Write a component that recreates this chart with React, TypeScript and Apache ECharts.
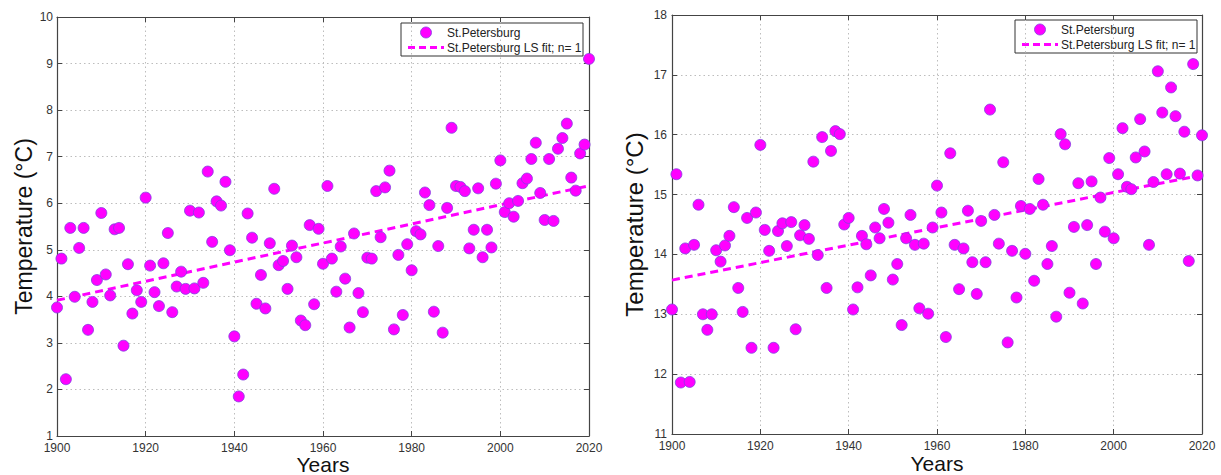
import React, { useEffect, useRef } from "react";
import * as echarts from "echarts";

// Annual mean temperature, St.Petersburg (left) – first year 1900, one value per year
const firstYear = 1900;
const leftValues = [
  3.76, 4.81, 2.22, 5.47, 3.99, 5.04, 5.47, 3.28, 3.88, 4.35,
  5.79, 4.47, 4.02, 5.44, 5.47, 2.94, 4.69, 3.63, 4.13, 3.88,
  6.12, 4.66, 4.09, 3.79, 4.71, 5.36, 3.66, 4.21, 4.53, 4.16,
  5.84, 4.17, 5.80, 4.29, 6.68, 5.17, 6.04, 5.95, 6.46, 4.99,
  3.14, 1.85, 2.32, 5.78, 5.26, 3.84, 4.46, 3.74, 5.14, 6.31,
  4.67, 4.76, 4.16, 5.09, 4.84, 3.48, 3.38, 5.53, 3.83, 5.45,
  4.70, 6.37, 4.81, 4.10, 5.07, 4.38, 3.33, 5.35, 4.07, 3.66,
  4.83, 4.81, 6.26, 5.27, 6.34, 6.70, 3.29, 4.89, 3.60, 5.12,
  4.56, 5.40, 5.33, 6.23, 5.96, 3.67, 5.08, 3.22, 5.90, 7.62,
  6.37, 6.35, 6.26, 5.03, 5.43, 6.32, 4.84, 5.43, 5.05, 6.42,
  6.92, 5.81, 6.00, 5.71, 6.05, 6.43, 6.53, 6.95, 7.30, 6.22,
  5.64, 6.95, 5.62, 7.17, 7.40, 7.71, 6.55, 6.27, 7.07, 7.26,
  9.10,
];

// Right panel values
const rightValues = [
  13.08, 15.34, 11.86, 14.10, 11.87, 14.16, 14.83, 13.00, 12.74, 13.00,
  14.07, 13.88, 14.15, 14.31, 14.79, 13.44, 13.04, 14.61, 12.44, 14.70,
  15.83, 14.41, 14.06, 12.44, 14.39, 14.52, 14.14, 14.54, 12.75, 14.32,
  14.49, 14.26, 15.55, 13.99, 15.96, 13.44, 15.73, 16.06, 16.01, 14.50,
  14.61, 13.08, 13.45, 14.31, 14.17, 13.65, 14.45, 14.27, 14.76, 14.53,
  13.58, 13.84, 12.82, 14.27, 14.66, 14.16, 13.10, 14.18, 13.01, 14.45,
  15.15, 14.70, 12.62, 15.69, 14.16, 13.42, 14.10, 14.73, 13.87, 13.34,
  14.56, 13.87, 16.42, 14.66, 14.18, 15.54, 12.53, 14.06, 13.28, 14.81,
  14.01, 14.76, 13.56, 15.26, 14.83, 13.84, 14.14, 12.96, 16.01, 15.84,
  13.36, 14.46, 15.19, 13.18, 14.49, 15.22, 13.84, 14.95, 14.38, 15.61,
  14.27, 15.34, 16.11, 15.13, 15.09, 15.62, 16.26, 15.72, 14.16, 15.21,
  17.06, 16.37, 15.34, 16.79, 16.31, 15.35, 16.05, 13.89, 17.18, 15.32,
  15.99,
];

const xRange = [1900, 2020];
const leftYRange = [1, 10];
const rightYRange = [11, 18];
const seriesName = "St.Petersburg";
const fitName = "St.Petersburg LS fit; n= 1";
const xTitle = "Years";
const yTitle = "Temperature (°C)";

const FONT = "Liberation Sans, Arial, Helvetica, sans-serif";
const MAGENTA = "#ff00ff";

function toPoints(vals: number[]) {
  return vals.map((v, i) => [firstYear + i, v]);
}

function lsFit(pts: number[][]) {
  const n = pts.length;
  let sx = 0, sy = 0, sxx = 0, sxy = 0;
  pts.forEach(([x, y]) => {
    sx += x; sy += y; sxx += x * x; sxy += x * y;
  });
  const b = (n * sxy - sx * sy) / (n * sxx - sx * sx);
  const a = (sy - b * sx) / n;
  const x0 = pts[0][0];
  const x1 = pts[n - 1][0];
  return [[x0, a + b * x0], [x1, a + b * x1]];
}

const plain = (v: number) => String(v);

function axisCommon() {
  return {
    type: "value" as const,
    axisLine: { show: true, onZero: false, lineStyle: { color: "#444", width: 1.2 } },
    axisTick: { show: true, inside: true, length: 5, lineStyle: { color: "#444" } },
    splitLine: { show: true, lineStyle: { type: [1.5, 3] as any, color: "#bdbdbd", width: 1 } },
  };
}

function legend(x: number, y: number, w: number, h: number) {
  return {
    type: "group",
    z: 100,
    children: [
      { type: "rect", shape: { x, y, width: w, height: h }, style: { fill: "#fff", stroke: "#333", lineWidth: 1 } },
      { type: "circle", shape: { cx: x + 25, cy: y + 9.5, r: 5.5 }, style: { fill: MAGENTA, stroke: "#8040e0", lineWidth: 0.8 } },
      { type: "text", style: { x: x + 46, y: y + 9.5, text: seriesName, fontFamily: FONT, fontSize: 12, fill: "#222", verticalAlign: "middle" } },
      { type: "line", shape: { x1: x + 7, y1: y + 24.5, x2: x + 43, y2: y + 24.5 }, style: { stroke: MAGENTA, lineWidth: 3, lineDash: [7, 4] } },
      { type: "text", style: { x: x + 46, y: y + 24.5, text: fitName, fontFamily: FONT, fontSize: 12, fill: "#222", verticalAlign: "middle" } },
    ],
  };
}

export default function App() {
  const ref = useRef<HTMLDivElement>(null);
  useEffect(() => {
    if (!ref.current) return;
    const chart = echarts.init(ref.current, undefined, { renderer: "svg" });
    const lp = toPoints(leftValues);
    const rp = toPoints(rightValues);
    const scatterStyle = {
      symbol: "circle",
      symbolSize: 11,
      itemStyle: { color: MAGENTA, borderColor: "#8040e0", borderWidth: 0.8, opacity: 1 },
      clip: false,
      z: 3,
    };
    const fitStyle = {
      symbol: "none",
      lineStyle: { color: MAGENTA, width: 3, type: [8, 5] },
      z: 2,
    };
    const tickLabel = (margin: number) => ({
      fontFamily: FONT, fontSize: 12, lineHeight: 12, color: "#333", margin, formatter: plain,
    });
    const xBase = (gi: number) => ({
      ...axisCommon(),
      gridIndex: gi,
      min: xRange[0],
      max: xRange[1],
      interval: 20,
    });
    const yBase = (gi: number, r: number[]) => ({
      ...axisCommon(),
      gridIndex: gi,
      min: r[0],
      max: r[1],
      interval: 1,
    });
    chart.setOption({
      animation: false,
      backgroundColor: "#fff",
      grid: [
        { left: 57, top: 17, width: 532, height: 419, containLabel: false, outerBoundsMode: "none" },
        { left: 672, top: 15, width: 530, height: 419, containLabel: false, outerBoundsMode: "none" },
      ],
      xAxis: [
        {
          ...xBase(0), position: "bottom",
          name: xTitle, nameLocation: "middle", nameGap: 18, nameMoveOverlap: false,
          nameTextStyle: { fontFamily: FONT, fontSize: 21, color: "#111", lineHeight: 21 },
          axisLabel: tickLabel(6),
        },
        { ...xBase(0), position: "top", axisLabel: { show: false }, splitLine: { show: false } },
        {
          ...xBase(1), position: "bottom",
          name: xTitle, nameLocation: "middle", nameGap: 19, nameMoveOverlap: false,
          nameTextStyle: { fontFamily: FONT, fontSize: 21, color: "#111", lineHeight: 21 },
          axisLabel: tickLabel(6),
        },
        { ...xBase(1), position: "top", axisLabel: { show: false }, splitLine: { show: false } },
      ],
      yAxis: [
        {
          ...yBase(0, leftYRange), position: "left",
          name: yTitle, nameLocation: "middle", nameGap: 22,
          nameTextStyle: { fontFamily: FONT, fontSize: 23, color: "#111" },
          axisLabel: tickLabel(4),
        },
        { ...yBase(0, leftYRange), position: "right", axisLabel: { show: false }, splitLine: { show: false } },
        {
          ...yBase(1, rightYRange), position: "left",
          name: yTitle, nameLocation: "middle", nameGap: 26,
          nameTextStyle: { fontFamily: FONT, fontSize: 24, color: "#111" },
          axisLabel: tickLabel(5),
        },
        { ...yBase(1, rightYRange), position: "right", axisLabel: { show: false }, splitLine: { show: false } },
      ],
      series: [
        { type: "line", name: fitName, xAxisIndex: 0, yAxisIndex: 0, data: lsFit(lp), ...fitStyle },
        { type: "scatter", name: seriesName, xAxisIndex: 0, yAxisIndex: 0, data: lp, ...scatterStyle },
        { type: "line", name: fitName + " ", xAxisIndex: 2, yAxisIndex: 2, data: lsFit(rp), ...fitStyle },
        { type: "scatter", name: seriesName + " ", xAxisIndex: 2, yAxisIndex: 2, data: rp, ...scatterStyle },
      ],
      graphic: [legend(401, 23, 182, 33), legend(1015, 20, 182, 33)],
    });
    return () => chart.dispose();
  }, []);
  return (
    <div
      ref={ref}
      style={{ position: "fixed", left: 0, top: 0, width: 1221, height: 475, background: "#fff" }}
    />
  );
}
